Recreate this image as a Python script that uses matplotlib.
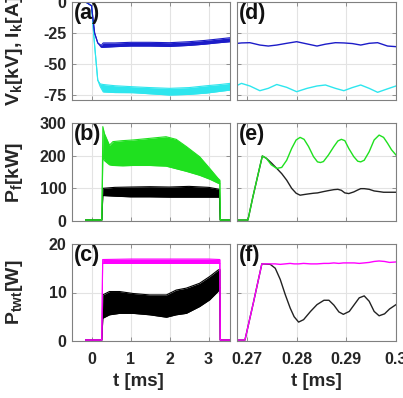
import matplotlib
matplotlib.use('Agg')
import matplotlib.pyplot as plt

plt.rcParams['font.family'] = ['Liberation Sans', 'DejaVu Sans']
plt.rcParams['font.weight'] = 'bold'
plt.rcParams['mathtext.fontset'] = 'custom'
plt.rcParams['mathtext.rm'] = 'Liberation Sans:bold'
plt.rcParams['mathtext.it'] = 'Liberation Sans:bold'
plt.rcParams['mathtext.bf'] = 'Liberation Sans:bold'
plt.rcParams['mathtext.default'] = 'bf'
plt.rcParams['axes.unicode_minus'] = False

# ---------------- data ----------------
# (a) long time scale, V_k (cyan) and I_k (blue) envelopes
t_vk = [-0.15, 0.0, 0.08, 0.16, 0.22, 0.30, 0.6, 1.05, 1.5, 2.0, 2.5, 2.95, 3.3, 3.55]
vk_hi = [0, -3, -35, -63, -66, -66.5, -67.5, -68.3, -69, -69.6, -69, -67.5, -66.5, -65.6]
vk_lo = [0, -3, -35, -63, -68, -72.5, -73, -73.1, -74, -75, -74.5, -73.4, -72, -71]
t_ik = [-0.15, 0.0, 0.08, 0.16, 0.25, 0.3, 0.6, 1.0, 1.5, 2.0, 2.5, 2.9, 3.2, 3.55]
ik_hi = [0, -3, -25, -33, -35, -33, -33, -32.5, -32.5, -32.8, -32, -31, -30, -28.8]
ik_lo = [0, -3, -25, -33, -36.5, -36.5, -36, -35.5, -35.5, -35.8, -35, -34, -33, -32]

# (d) zoomed time scale
t_d = [0.2682, 0.2689, 0.2706, 0.2726, 0.2743, 0.2760, 0.2780, 0.2800, 0.2821,
       0.2841, 0.2858, 0.2878, 0.2895, 0.2912, 0.2929, 0.2946, 0.2963, 0.2983, 0.3000]
vk_d = [-66.9, -65.6, -67.7, -71.5, -69.6, -66.5, -68.8, -72.3, -69.6,
        -67.7, -66.9, -69.6, -71.5, -69.0, -66.9, -69.6, -72.8, -70.0, -67.7]
ik_d = [-33.3, -33.0, -32.8, -34.7, -35.5, -34.7, -33.3, -32.0, -33.8,
        -35.5, -34.0, -32.8, -33.0, -33.5, -34.7, -33.3, -32.8, -35.5, -36.0]

# (b) forward power envelopes: green (with oscillations) and black
t_g = [-0.15, 0.265, 0.29, 0.33, 0.46, 0.55, 0.8, 1.06, 1.49, 1.91, 2.17, 2.43, 2.77, 3.03, 3.24, 3.29, 3.30, 3.55]
g_hi = [3, 3, 289, 268, 232, 243, 246, 248, 253, 258, 250, 228, 197, 161, 131, 125, 3, 3]
g_lo = [3, 3, 197, 185, 172, 170, 169, 170, 170, 168, 160, 152, 140, 128, 116, 114, 3, 3]
t_k = [-0.15, 0.265, 0.29, 0.6, 1.0, 1.5, 2.0, 2.5, 3.0, 3.28, 3.30, 3.55]
k_hi = [3, 3, 100, 103, 104, 105, 104, 106, 103, 97, 3, 3]
k_lo = [3, 3, 78, 76, 74, 74, 73, 73, 73, 73, 3, 3]

# (e) zoomed forward power
t_e = [0.2680, 0.2702, 0.2712, 0.2722, 0.2731, 0.2739, 0.2749, 0.2760, 0.2770, 0.2780,
       0.2790, 0.2799, 0.2807, 0.2815, 0.2824, 0.2834, 0.2842, 0.2848, 0.2854, 0.2864,
       0.2875, 0.2883, 0.2890, 0.2897, 0.2905, 0.2915, 0.2923, 0.2929, 0.2936, 0.2946,
       0.2956, 0.2966, 0.2975, 0.2983, 0.2991, 0.3000]
pg_e = [3, 3, 74, 140, 199, 192, 172, 161, 164, 186, 222, 248, 256, 250, 228, 197, 181, 179,
        182, 202, 228, 245, 250, 246, 222, 197, 183, 181, 186, 212, 248, 263, 256, 238, 218, 202]
pk_e = [3, 3, 74, 140, 199, 192, 178, 161, 145, 125, 100, 85, 79, 81, 83, 85, 86, 88,
        90, 93, 96, 97, 94, 86, 84, 89, 95, 99, 99, 97, 92, 90, 88, 88, 88, 88]

# (c) TWT power: magenta and black envelopes
t_m = [-0.15, 0.265, 0.285, 1.0, 2.0, 3.0, 3.29, 3.30, 3.55]
m_hi = [0.2, 0.2, 16.8, 16.9, 16.9, 16.9, 16.8, 0.2, 0.2]
m_lo = [0.2, 0.2, 16.0, 16.0, 16.0, 16.0, 16.0, 0.2, 0.2]
t_b = [-0.15, 0.265, 0.29, 0.46, 0.72, 1.06, 1.49, 1.92, 2.17, 2.43, 2.77, 3.03, 3.24, 3.29, 3.30, 3.55]
b_hi = [0.2, 0.2, 9.5, 10.2, 10.2, 9.8, 9.5, 9.5, 10.5, 10.9, 11.9, 13.3, 14.6, 14.8, 0.2, 0.2]
b_lo = [0.2, 0.2, 4.7, 5.4, 5.7, 5.7, 5.4, 4.9, 5.4, 5.7, 7.1, 8.5, 10.2, 11.0, 0.2, 0.2]

# (f) zoomed TWT power
t_f = [0.2680, 0.2696, 0.2713, 0.2730, 0.2747, 0.2757, 0.2767, 0.2777, 0.2787, 0.2795,
       0.2804, 0.2814, 0.2828, 0.2841, 0.2855, 0.2865, 0.2875, 0.2885, 0.2894, 0.2906,
       0.2916, 0.2926, 0.2936, 0.2946, 0.2956, 0.2966, 0.2977, 0.2987, 0.3000]
pm_f = [0.2, 0.2, 7.9, 15.9, 15.9, 15.9, 15.8, 15.9, 16.0, 15.9, 15.9, 16.0, 15.9, 15.9,
        16.0, 16.0, 16.1, 16.0, 16.1, 16.1, 16.1, 16.0, 16.1, 16.2, 16.4, 16.5, 16.4, 16.2, 16.3]
pk_f = [0.2, 0.2, 7.9, 15.9, 15.8, 15.0, 12.7, 9.6, 6.8, 5.0, 3.9, 4.4, 6.1, 7.5, 8.4,
        8.4, 7.4, 6.0, 5.5, 6.1, 7.5, 8.9, 9.3, 8.2, 6.1, 5.2, 5.6, 6.6, 7.5]

# tick labels
xt_left = [0, 1, 2, 3]
xt_right = [0.27, 0.28, 0.29, 0.3]
xt_right_lbl = ['0.27', '0.28', '0.29', '0.3']
yt_a = [-75, -50, -25, 0]
yt_b = [0, 100, 200, 300]
yt_c = [0, 10, 20]

C_CYAN = '#2ee6ee'
C_BLUE = '#1c1cc8'
C_GREEN = '#1fe01f'
C_BLACK = '#000000'
C_MAG = '#ff00ff'

# ---------------- figure ----------------
W, H = 403, 398
fig = plt.figure(figsize=(W / 100, H / 100), dpi=100)

def px_axes(x0, x1, y0, y1):
    return fig.add_axes([x0 / W, 1 - y1 / H, (x1 - x0) / W, (y1 - y0) / H])

rows = [(2, 100), (123, 221), (244, 341)]
axL = [px_axes(72, 230, *r) for r in rows]
axR = [px_axes(237, 396, *r) for r in rows]

def band(ax, t, lo, hi, c, lw=0.8, z=2):
    ax.fill_between(t, lo, hi, color=c, lw=0, zorder=z)
    ax.plot(t, hi, color=c, lw=lw, zorder=z)
    ax.plot(t, lo, color=c, lw=lw, zorder=z)

# (a)
band(axL[0], t_vk, vk_lo, vk_hi, C_CYAN)
band(axL[0], t_ik, ik_lo, ik_hi, C_BLUE)
# (d)
axR[0].plot(t_d, vk_d, color=C_CYAN, lw=1.0)
axR[0].plot(t_d, ik_d, color=C_BLUE, lw=1.0)
# (b)
band(axL[1], t_k, k_lo, k_hi, C_BLACK)
band(axL[1], t_g, g_lo, g_hi, C_GREEN)
# (e)
axR[1].plot(t_e, pk_e, color='#222222', lw=1.0)
axR[1].plot(t_e, pg_e, color=C_GREEN, lw=1.0)
# (c)
band(axL[2], t_b, b_lo, b_hi, C_BLACK)
band(axL[2], t_m, m_lo, m_hi, C_MAG)
# (f)
axR[2].plot(t_f, pk_f, color='#222222', lw=1.0)
axR[2].plot(t_f, pm_f, color=C_MAG, lw=1.0)

ylims = [(-79, 0), (0, 300), (0, 20)]
yticks = [yt_a, yt_b, yt_c]
labels = [['(a)', '(b)', '(c)'], ['(d)', '(e)', '(f)']]
ylabels = [r'$V_k$[kV], $I_k$[A]', r'$P_f$[kW]', r'$P_{twt}$[W]']

for col, axes in enumerate([axL, axR]):
    for i, ax in enumerate(axes):
        ax.set_ylim(*ylims[i])
        ax.set_yticks(yticks[i])
        if col == 0:
            ax.set_xlim(-0.5, 3.55)
            ax.set_xticks(xt_left)
        else:
            ax.set_xlim(0.268, 0.3)
            ax.set_xticks(xt_right)
            ax.set_xticklabels(xt_right_lbl)
            ax.tick_params(labelleft=False)
        if i < 2:
            ax.tick_params(labelbottom=False)
        ax.grid(True, color='#e3e3e3', lw=0.8, zorder=0)
        ax.set_axisbelow(True)
        for s in ax.spines.values():
            s.set_color('#808080')
            s.set_linewidth(0.8)
        ax.tick_params(direction='in', length=3, width=0.6, color='#808080',
                       labelsize=11.5, pad=4, top=True, right=True)
        ax.tick_params(axis='x', pad=8)
        for lab in ax.get_xticklabels() + ax.get_yticklabels():
            lab.set_fontweight('bold')
            lab.set_color('#262626')
        ax.text(0.01, 0.985, labels[col][i], transform=ax.transAxes, ha='left', va='top',
                fontsize=15.5, fontweight='bold', color='#111111', zorder=10)
        if col == 0:
            ax.set_ylabel(ylabels[i], fontsize=14, fontweight='bold', color='#262626')
            ax.yaxis.set_label_coords(-0.30, 0.5)
        if i == 2:
            ax.set_xlabel('t [ms]', fontsize=13.5, fontweight='bold', color='#262626')
            xc = 0.42 if col == 0 else 0.5
            ax.xaxis.set_label_coords(xc, -0.33)

fig.savefig('out.png', dpi=100)
